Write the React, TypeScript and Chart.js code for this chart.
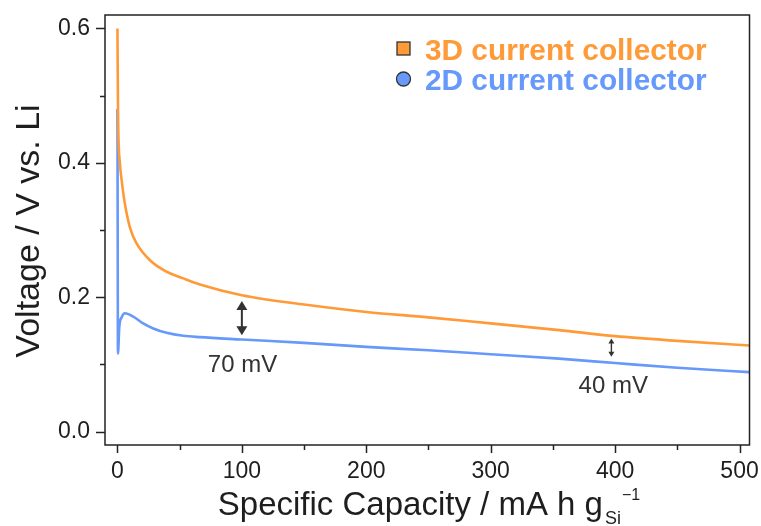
import { useEffect, useRef } from "react";
import { Chart, registerables } from "chart.js";
Chart.register(...registerables);

// ---- data ----
const capacity3D = [0, 0.5, 2, 3.4, 6, 10, 15.4, 26.1, 39.5, 52.9, 66.3, 100, 150, 200, 250, 300, 355, 400, 450, 508];
const voltage3D = [0.6, 0.47, 0.399, 0.374, 0.339, 0.304, 0.28, 0.255, 0.238, 0.228, 0.219, 0.203, 0.189, 0.178, 0.17, 0.161, 0.151, 0.142, 0.135, 0.128];
const capacity2D = [0, 0.2, 0.4, 1.5, 3.4, 6, 12.7, 20.7, 28.8, 39.5, 52.9, 66.3, 100, 150, 200, 250, 300, 355, 400, 450, 508];
const voltage2D = [0.48, 0.3, 0.116, 0.156, 0.17, 0.176, 0.171, 0.161, 0.1535, 0.147, 0.1425, 0.1405, 0.137, 0.132, 0.126, 0.121, 0.115, 0.1085, 0.102, 0.095, 0.0885];

const seriesNames = ["3D current collector", "2D current collector"];
const xMajorTicks = [0, 100, 200, 300, 400, 500];
const xMinorTicks = [50, 150, 250, 350, 450];
const yMajorTicks = [0, 0.2, 0.4, 0.6];
const yMinorTicks = [0.1, 0.3, 0.5];

const arrowX = [100, 397];
const arrowTop = [0.1945, 0.1386];
const arrowBottom = [0.1435, 0.1113];
const noteLabels = ["70 mV", "40 mV"];
const noteX = [100.5, 398.5];
const noteY = [0.0886, 0.0574];

const xTitle = "Specific Capacity / mA h g";
const xTitleSub = "Si";
const xTitleSup = "\u22121";
const yTitle = "Voltage / V vs. Li";

const ORANGE = "#ff9a38";
const BLUE = "#6699fa";
const FONT = '"Liberation Sans", Arial, Helvetica, sans-serif';
const INK = "#1e1e1e";

const decorPlugin = {
  id: "decor",
  afterDraw(chart: any) {
    const { ctx, chartArea, scales } = chart;
    const { left, right, top, bottom } = chartArea;
    const xs = scales.x;
    const ys = scales.y;
    ctx.save();
    // frame
    ctx.strokeStyle = "#222";
    ctx.lineWidth = 1.5;
    ctx.strokeRect(left, top, right - left, bottom - top);
    // ticks
    ctx.beginPath();
    xMajorTicks.forEach((v) => {
      const p = Math.round(xs.getPixelForValue(v)) + 0.5;
      ctx.moveTo(p, bottom); ctx.lineTo(p, bottom + 8);
    });
    xMinorTicks.forEach((v) => {
      const p = Math.round(xs.getPixelForValue(v)) + 0.5;
      ctx.moveTo(p, bottom); ctx.lineTo(p, bottom + 5);
    });
    yMajorTicks.forEach((v) => {
      const p = Math.round(ys.getPixelForValue(v)) + 0.5;
      ctx.moveTo(left, p); ctx.lineTo(left - 9, p);
    });
    yMinorTicks.forEach((v) => {
      const p = Math.round(ys.getPixelForValue(v)) + 0.5;
      ctx.moveTo(left, p); ctx.lineTo(left - 5, p);
    });
    ctx.stroke();

    // arrows
    arrowX.forEach((xv, i) => {
      const px = xs.getPixelForValue(xv);
      const pt = ys.getPixelForValue(arrowTop[i]);
      const pb = ys.getPixelForValue(arrowBottom[i]);
      const big = i === 0;
      const hw = big ? 5.5 : 3;
      const hh = big ? 9 : 5;
      ctx.strokeStyle = "#333";
      ctx.fillStyle = "#333";
      ctx.lineWidth = big ? 2 : 1.4;
      ctx.beginPath();
      ctx.moveTo(px, pt + hh - 1);
      ctx.lineTo(px, pb - hh + 1);
      ctx.stroke();
      ctx.beginPath();
      ctx.moveTo(px, pt); ctx.lineTo(px - hw, pt + hh); ctx.lineTo(px + hw, pt + hh); ctx.closePath();
      ctx.fill();
      ctx.beginPath();
      ctx.moveTo(px, pb); ctx.lineTo(px - hw, pb - hh); ctx.lineTo(px + hw, pb - hh); ctx.closePath();
      ctx.fill();
    });
    // notes
    ctx.fillStyle = "#333";
    ctx.font = `24px ${FONT}`;
    ctx.textAlign = "center";
    ctx.textBaseline = "alphabetic";
    noteLabels.forEach((t, i) => {
      ctx.fillText(t, xs.getPixelForValue(noteX[i]), ys.getPixelForValue(noteY[i]));
    });

    // legend
    const colors = [ORANGE, BLUE];
    const baselines = [60, 90];
    seriesNames.forEach((name, i) => {
      const cy = baselines[i] - 11;
      ctx.fillStyle = colors[i];
      ctx.strokeStyle = "#333";
      ctx.lineWidth = 1.3;
      if (i === 0) {
        ctx.fillRect(397, cy - 7, 13, 13);
        ctx.strokeRect(397, cy - 7, 13, 13);
      } else {
        ctx.beginPath();
        ctx.arc(403.5, cy, 7, 0, Math.PI * 2);
        ctx.fill();
        ctx.stroke();
      }
      ctx.font = `bold 27px ${FONT}`;
      const w27 = ctx.measureText(name).width;
      const size = Math.min(30, (27 * 282) / w27);
      ctx.font = `bold ${size.toFixed(1)}px ${FONT}`;
      ctx.textAlign = "left";
      ctx.fillText(name, 425, baselines[i]);
    });

    // x title
    ctx.fillStyle = INK;
    ctx.textAlign = "left";
    ctx.font = `33px ${FONT}`;
    const wMain = ctx.measureText(xTitle).width;
    ctx.font = `18px ${FONT}`;
    const wSub = ctx.measureText(xTitleSub).width;
    ctx.font = `16px ${FONT}`;
    const wSup = ctx.measureText(xTitleSup).width;
    const total = wMain + 2 + wSub + 1 + wSup;
    const x0 = 429 - total / 2;
    ctx.font = `33px ${FONT}`;
    ctx.fillText(xTitle, x0, 515);
    ctx.font = `18px ${FONT}`;
    ctx.fillText(xTitleSub, x0 + wMain + 2, 524);
    ctx.font = `16px ${FONT}`;
    ctx.fillText(xTitleSup, x0 + wMain + 2 + wSub + 1, 500);

    // y title
    ctx.translate(39, 231);
    ctx.rotate(-Math.PI / 2);
    ctx.textAlign = "center";
    ctx.font = `34px ${FONT}`;
    ctx.fillText(yTitle, 0, 0);
    ctx.restore();
  },
};

const zeroPad = (s: any) => {
  s.paddingLeft = 0;
  s.paddingRight = 0;
  s.paddingTop = 0;
  s.paddingBottom = 0;
};

export default function App() {
  const ref = useRef<HTMLCanvasElement | null>(null);
  useEffect(() => {
    if (!ref.current) return;
    const chart = new Chart(ref.current, {
      type: "scatter",
      data: {
        datasets: [
          {
            label: seriesNames[0],
            data: capacity3D.map((c, i) => ({ x: c, y: voltage3D[i] })),
            showLine: true,
            borderColor: ORANGE,
            backgroundColor: ORANGE,
            borderWidth: 2.6,
            pointRadius: 0,
            cubicInterpolationMode: "monotone",
            order: 0,
          },
          {
            label: seriesNames[1],
            data: capacity2D.map((c, i) => ({ x: c, y: voltage2D[i] })),
            showLine: true,
            borderColor: BLUE,
            backgroundColor: BLUE,
            borderWidth: 2.6,
            pointRadius: 0,
            cubicInterpolationMode: "monotone",
            order: 1,
          },
        ],
      },
      options: {
        animation: false,
        responsive: false,
        devicePixelRatio: 1,
        layout: { padding: { top: 15, right: 11.5, left: 0, bottom: 0 } },
        plugins: { legend: { display: false }, tooltip: { enabled: false } },
        scales: {
          x: {
            type: "linear",
            min: -10,
            max: 508,
            grid: { display: false, drawTicks: false },
            border: { display: false },
            ticks: {
              font: { family: FONT, size: 23 },
              color: INK,
              padding: 13,
              autoSkip: false,
              maxRotation: 0,
              callback: (v: any) => String(v),
            },
            afterBuildTicks: (s: any) => {
              s.ticks = xMajorTicks.map((v) => ({ value: v }));
            },
            afterFit: (s: any) => {
              s.height = 81;
              zeroPad(s);
            },
          },
          y: {
            type: "linear",
            min: -0.02,
            max: 0.62,
            grid: { display: false, drawTicks: false },
            border: { display: false },
            ticks: {
              font: { family: FONT, size: 23 },
              color: INK,
              padding: 15,
              callback: (v: any) => Number(v).toFixed(1),
            },
            afterBuildTicks: (s: any) => {
              s.ticks = yMajorTicks.map((v) => ({ value: v }));
            },
            afterFit: (s: any) => {
              s.width = 105;
              zeroPad(s);
            },
          },
        },
      },
      plugins: [decorPlugin],
    } as any);
    return () => chart.destroy();
  }, []);
  return (
    <div style={{ position: "absolute", left: 0, top: 0, width: 761, height: 526, background: "#fff" }}>
      <canvas ref={ref} width={761} height={526} style={{ width: 761, height: 526, display: "block" }} />
    </div>
  );
}
